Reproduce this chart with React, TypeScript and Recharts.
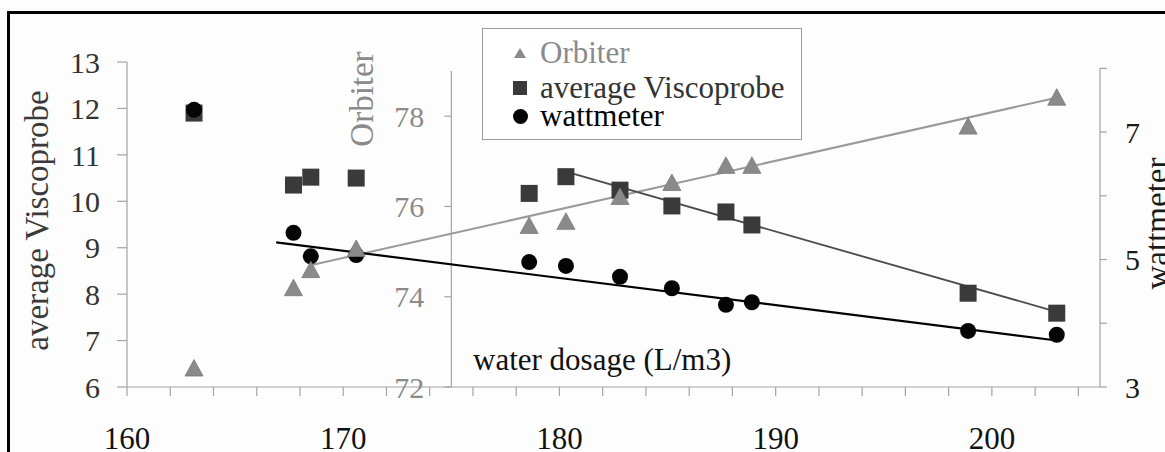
import React from 'react';
import { ComposedChart, Scatter, Line, XAxis, YAxis, Legend, ReferenceLine, ReferenceDot } from 'recharts';

// ---------- data ----------
const dosage = [163.1, 167.7, 168.5, 170.6, 178.6, 180.3, 182.8, 185.2, 187.7, 188.9, 198.9, 203.0];
const orbiter = [72.42, 74.2, 74.6, 75.07, 75.58, 75.67, 76.22, 76.53, 76.91, 76.91, 77.78, 78.42];
const viscoprobe = [11.9, 10.35, 10.52, 10.5, 10.17, 10.53, 10.24, 9.9, 9.77, 9.49, 8.02, 7.59];
const wattmeter = [7.35, 5.42, 5.05, 5.07, 4.96, 4.9, 4.73, 4.55, 4.29, 4.33, 3.88, 3.82];

const orbiterTrendX = [168.6, 203.1];
const orbiterTrendY = [74.71, 78.42];
const viscoTrendX = [180.5, 203.0];
const viscoTrendY = [10.61, 7.62];
const wattTrendX = [166.9, 203.0];
const wattTrendY = [5.27, 3.73];

const xTicks = [160, 162, 164, 166, 168, 170, 172, 174, 176, 178, 180, 182, 184, 186, 188, 190, 192, 194, 196, 198, 200, 202, 204];
const xLabelTicks = [160, 170, 180, 190, 200];
const viscoTicks = [6, 7, 8, 9, 10, 11, 12, 13];
const orbiterTicks = [72, 74, 76, 78];
const orbiterAxisAt = 175;
const orbiterAxisTop = 79;
const wattTicks = [3, 4, 5, 6, 7, 8];
const wattLabelTicks = [3, 5, 7];

const legendOrder = ['Orbiter', 'average Viscoprobe', 'wattmeter'];

// ---------- build ----------
const toPts = (xs: number[], ys: number[]) => xs.map((x, i) => ({ x, y: ys[i] }));
const orbiterData = toPts(dosage, orbiter);
const viscoData = toPts(dosage, viscoprobe);
const wattData = toPts(dosage, wattmeter);
const orbiterTrend = toPts(orbiterTrendX, orbiterTrendY);
const viscoTrend = toPts(viscoTrendX, viscoTrendY);
const wattTrend = toPts(wattTrendX, wattTrendY);

const FONT = '"Liberation Serif", "Times New Roman", serif';
const ORB = '#8a8a8a';
const VIS = '#3a3a3a';
const WAT = '#050505';
const AXIS = '#a4a4a4';

const TriangleShape = (p: any) => (
  <polygon points={`${p.cx},${p.cy - 8.5} ${p.cx + 9},${p.cy + 8} ${p.cx - 9},${p.cy + 8}`} fill={ORB} stroke="#7a7a7a" strokeWidth={0.8} />
);
const SquareShape = (p: any) => (
  <rect x={p.cx - 8.5} y={p.cy - 8.5} width={17} height={17} fill={VIS} />
);
const CircleShape = (p: any) => <circle cx={p.cx} cy={p.cy} r={8} fill={WAT} />;

const XTick = (p: any) => {
  const v = p.payload?.value;
  if (!xLabelTicks.includes(v)) return <g />;
  return (
    <text x={p.x} y={p.y} dy={51} textAnchor="middle" fontSize={31} fill="#111" fontFamily={FONT}>
      {v}
    </text>
  );
};

const OrbiterTick = (value: number) => (p: any) => (
  <g>
    <line x1={p.cx - 7} y1={p.cy} x2={p.cx} y2={p.cy} stroke={AXIS} strokeWidth={1.2} />
    <text x={p.cx - 27} y={p.cy} dy="0.35em" textAnchor="end" fontSize={30} fill={ORB} fontFamily={FONT}>
      {value}
    </text>
  </g>
);

const OrbiterTitle = (p: any) => (
  <text
    x={p.cx - 89}
    y={p.cy + 28}
    transform={`rotate(-90 ${p.cx - 89} ${p.cy + 28})`}
    textAnchor="middle"
    dominantBaseline="central"
    fontSize={33}
    fill={ORB}
    fontFamily={FONT}
  >
    Orbiter
  </text>
);

const vLabel = (txt: string, dx: number, dyc: number, color: string) => (props: any) => {
  const vb = props.viewBox || {};
  const cx = vb.x + dx;
  const cy = vb.y + vb.height / 2 + dyc;
  return (
    <text
      x={cx}
      y={cy}
      transform={`rotate(-90 ${cx} ${cy})`}
      textAnchor="middle"
      dominantBaseline="central"
      fontSize={33}
      fill={color}
      fontFamily={FONT}
    >
      {txt}
    </text>
  );
};

const xLabel = (props: any) => {
  const vb = props.viewBox || {};
  return (
    <text x={vb.x + 346} y={vb.y - 17} fontSize={31} fill="#111" fontFamily={FONT}>
      water dosage (L/m3)
    </text>
  );
};

const legendIcon = (type: string, color: string) => {
  if (type === 'triangle') return <polygon points="6,0 12,10 0,10" fill={color} />;
  if (type === 'square') return <rect x={0} y={0} width={14} height={14} fill={color} />;
  return <circle cx={7.5} cy={7.5} r={7.5} fill={color} />;
};

const rowCenters = [24, 59, 87];
const textColors: Record<string, string> = { Orbiter: ORB, 'average Viscoprobe': '#333', wattmeter: '#000' };

const LegendContent = (props: any) => {
  const items = (props.payload || [])
    .filter((e: any) => e.type !== 'none' && legendOrder.includes(e.value))
    .sort((a: any, b: any) => legendOrder.indexOf(a.value) - legendOrder.indexOf(b.value));
  return (
    <div style={{ position: 'relative', width: 320, height: 112, border: '1.5px solid #9a9a9a', boxSizing: 'border-box', background: '#fff' }}>
      {items.map((e: any, i: number) => {
        const w = e.type === 'triangle' ? 12 : e.type === 'square' ? 14 : 15;
        const h = e.type === 'triangle' ? 10 : w;
        return (
          <div key={e.value} style={{ position: 'absolute', left: 0, top: rowCenters[i] - 14, height: 28, width: 318 }}>
            <svg width={w} height={h} style={{ position: 'absolute', left: 37 - w / 2, top: 14 - h / 2 }}>
              {legendIcon(e.type, e.color)}
            </svg>
            <span
              style={{
                position: 'absolute',
                left: 57,
                top: 0,
                height: 28,
                lineHeight: '28px',
                fontSize: 31,
                fontFamily: FONT,
                color: textColors[e.value] || '#000',
                whiteSpace: 'nowrap',
              }}
            >
              {e.value}
            </span>
          </div>
        );
      })}
    </div>
  );
};

export default function App() {
  return (
    <div style={{ position: 'absolute', left: 0, top: 0, width: 1165, height: 452, overflow: 'hidden', background: '#fdfdfd', fontFamily: FONT }}>
      <div
        style={{
          position: 'absolute',
          left: 7,
          top: 11,
          width: 1300,
          height: 600,
          borderTop: '3px solid #000',
          borderLeft: '3px solid #000',
          boxSizing: 'border-box',
        }}
      />
      <div style={{ position: 'absolute', left: 0, top: 0 }}>
        <ComposedChart width={1165} height={452} margin={{ top: 62, right: 0, bottom: 0, left: 0 }}>
          <XAxis
            dataKey="x"
            type="number"
            domain={[160, 205]}
            allowDataOverflow
            ticks={xTicks}
            interval={0}
            height={65}
            tickSize={9}
            tickMargin={2}
            axisLine={{ stroke: AXIS, strokeWidth: 1.2 }}
            tickLine={{ stroke: AXIS, strokeWidth: 1.2 }}
            tick={<XTick />}
            label={{ content: xLabel }}
          />
          <YAxis
            yAxisId="v"
            orientation="left"
            type="number"
            domain={[6, 13]}
            allowDataOverflow
            ticks={viscoTicks}
            interval={0}
            width={127}
            tickSize={10}
            tickMargin={17}
            axisLine={{ stroke: AXIS, strokeWidth: 1.2 }}
            tickLine={{ stroke: AXIS, strokeWidth: 1.2 }}
            tick={{ fontSize: 30, fill: '#333', fontFamily: FONT }}
            label={{ content: vLabel('average Viscoprobe', 37, -4, '#3a3a3a') }}
          />
          <YAxis yAxisId="o" hide width={0} orientation="right" type="number" domain={[72, 79.2]} allowDataOverflow />
          <YAxis
            yAxisId="w"
            orientation="right"
            type="number"
            domain={[3, 8.1]}
            allowDataOverflow
            ticks={wattTicks}
            interval={0}
            width={65}
            tickSize={7}
            tickMargin={18}
            axisLine={false}
            tickLine={{ stroke: AXIS, strokeWidth: 1.2 }}
            tickFormatter={(v: number) => (wattLabelTicks.includes(v) ? String(v) : '')}
            tick={{ fontSize: 30, fill: '#1a1a1a', fontFamily: FONT }}
            label={{ content: vLabel('wattmeter', 57, -1, '#1a1a1a') }}
          />

          <ReferenceLine
            yAxisId="w"
            segment={[{ x: 205, y: 3 }, { x: 205, y: 8 }]}
            stroke={AXIS}
            strokeWidth={1.2}
            ifOverflow="visible"
          />
          <ReferenceLine
            yAxisId="o"
            segment={[{ x: orbiterAxisAt, y: 72 }, { x: orbiterAxisAt, y: orbiterAxisTop }]}
            stroke={AXIS}
            strokeWidth={1.2}
            ifOverflow="visible"
          />
          {orbiterTicks.map((t) => (
            <ReferenceDot key={t} yAxisId="o" x={orbiterAxisAt} y={t} ifOverflow="visible" shape={OrbiterTick(t)} />
          ))}
          <ReferenceDot yAxisId="o" x={orbiterAxisAt} y={orbiterAxisTop} ifOverflow="visible" shape={OrbiterTitle} />

          <Line data={orbiterTrend} dataKey="y" yAxisId="o" stroke="#9a9a9a" strokeWidth={2} dot={false} isAnimationActive={false} legendType="none" />
          <Line data={viscoTrend} dataKey="y" yAxisId="v" stroke="#4a4a4a" strokeWidth={1.8} dot={false} isAnimationActive={false} legendType="none" />
          <Line data={wattTrend} dataKey="y" yAxisId="w" stroke="#000" strokeWidth={2.2} dot={false} isAnimationActive={false} legendType="none" />

          <Scatter name="average Viscoprobe" data={viscoData} dataKey="y" yAxisId="v" fill={VIS} legendType="square" shape={SquareShape} isAnimationActive={false} />
          <Scatter name="wattmeter" data={wattData} dataKey="y" yAxisId="w" fill={WAT} legendType="circle" shape={CircleShape} isAnimationActive={false} />
          <Scatter name="Orbiter" data={orbiterData} dataKey="y" yAxisId="o" fill={ORB} legendType="triangle" shape={TriangleShape} isAnimationActive={false} />

          <Legend
            layout="horizontal"
            verticalAlign="middle"
            align="center"
            content={<LegendContent />}
            wrapperStyle={{ position: 'absolute', left: 482, top: 28, width: 320, height: 112, margin: 0, padding: 0 }}
          />
        </ComposedChart>
      </div>
    </div>
  );
}
